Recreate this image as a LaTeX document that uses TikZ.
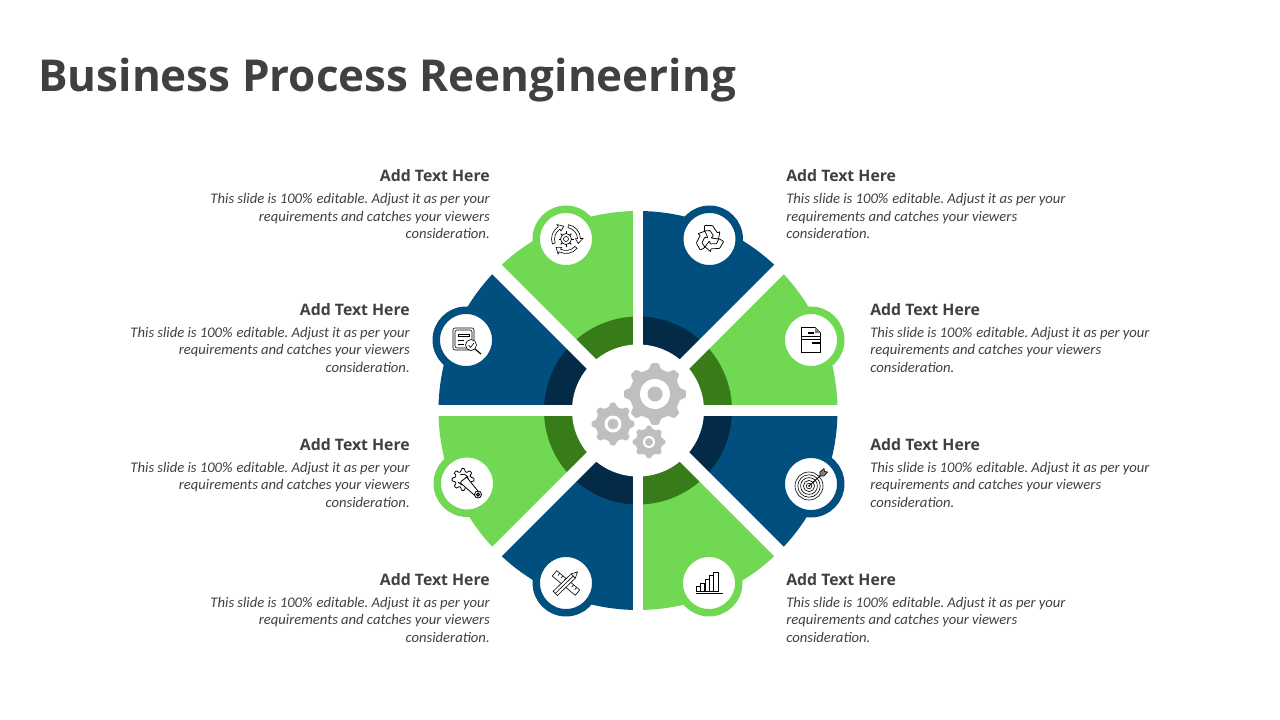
\documentclass[tikz,border=0pt]{standalone}
\usepackage{fontspec}
\setmainfont{Open Sans}
\newfontfamily\bodyfont{Carlito}
\definecolor{leaf}{HTML}{70D852}
\definecolor{leafdark}{HTML}{377C18}
\definecolor{sea}{HTML}{014F7E}
\definecolor{seadark}{HTML}{032B47}
\definecolor{cogray}{HTML}{BFBFBF}
\definecolor{ink}{HTML}{404040}
\newcommand{\blurbtext}{\frenchspacing\spaceskip=2.4pt\relax This slide is 100\%\hspace{3pt}editable. Adjust it as per your\\requirements and catches your viewers\\consideration.}
\begin{document}
\begin{tikzpicture}
  [
    x=0.75pt, y=-0.75pt,
    gap/.style={draw=white, line width=7.7pt},
    badge/.style={circle, fill=white, line width=5.6pt, minimum size=44.6pt, inner sep=0pt},
    head/.style={text=ink, font=\fontsize{11.85}{15}\selectfont\bfseries, inner sep=0pt},
    blurb/.style={text=ink, font=\bodyfont\fontsize{11}{13.25}\selectfont\itshape, inner sep=0pt, text width=240pt},
    icon/.style={draw=black, line width=0.45pt},
    pics/cog/.style args={#1/#2/#3/#4}{code={
      \fill[cogray, rounded corners=0.8pt] (-0.3*45:#2)
        \foreach \t in {0,45,...,315} {
          -- (\t-0.3*45:#2) -- (\t-0.15*45:#1) -- (\t+0.15*45:#1) -- (\t+0.3*45:#2)
        } -- cycle;
      \fill[white] (0,0) circle[radius=#3];
      \fill[cogray] (0,0) circle[radius=#4];
    }},
    pics/iconcycle/.style={code={
      \foreach \a in {-80,40,160} {
        \draw[icon] (\a:11.5) arc[start angle=\a, end angle=\a+78, radius=11.5] -- (\a+78:9.5) -- (\a+100:13)
          -- (\a+78:17) -- (\a+78:14.5) arc[start angle=\a+78, end angle=\a, radius=14.5] -- cycle;
      }
      \foreach \t in {0,45,...,315} { \draw[icon, line width=0.7pt] (\t:5) -- (\t:7.5); }
      \draw[icon] (0,0) circle[radius=5.5];
      \draw[icon] (0,0) circle[radius=2.5];
    }},
    pics/iconrecycle/.style={code={
      \foreach \a in {0,120,240} {
        \draw[icon, line width=0.55pt, rotate=\a, rounded corners=0.5pt] (-5,-13.5) -- (3,-13.5) -- (8,-6) -- (10.5,-7.5)
          -- (9,0) -- (1.5,-1) -- (4,-3) -- (0.5,-8.5) -- (-5,-8) -- cycle;
      }
    }},
    pics/icondoc/.style={code={
      \draw[icon, line width=0.7pt] (-9.5,-12.5) -- (4,-12.5) -- (9.5,-7) -- (9.5,12.5) -- (-9.5,12.5) -- cycle;
      \fill[gray] (4,-12.5) -- (9.5,-7) -- (4,-7) -- cycle;
      \draw[line width=0.9pt] (-3,-7) -- (3,-7);
      \draw[line width=0.9pt] (-9,-3.5) -- (9,-3.5);
      \draw[line width=0.9pt] (-9,-0.5) -- (9,-0.5);
      \draw[line width=0.9pt] (1,3) -- (8.5,3);
    }},
    pics/iconreport/.style={code={
      \draw[icon, rounded corners=1.5pt] (-13,-12) rectangle (8,10);
      \draw[icon, rounded corners=1.5pt] (-11,-10) rectangle (6,8);
      \draw[icon] (-8,-6) -- (3,-6) -- (3,-3.5) -- (-8,-3.5) -- cycle;
      \draw[icon] (-8,0) -- (-2,0);
      \draw[icon] (-8,4) -- (-2,4);
      \draw[icon, line width=0.9pt] (9,9) -- (15,14);
      \filldraw[icon, fill=white] (5,5) circle[radius=5.5];
      \draw[icon] (2.5,5) -- (4.5,7.5) -- (8,3);
    }},
    pics/iconwrench/.style={code={
      \begin{scope}[shift={(-4,-4)}]
        \draw[icon, line width=0.6pt, rounded corners=0.5pt] (-16:8)
          \foreach \t in {0,45,...,315} {
            -- (\t-16:8) -- (\t-8:11) -- (\t+8:11) -- (\t+16:8)
          } -- cycle;
        \draw[icon, line width=0.6pt] (-120:5.5) arc[start angle=-120, end angle=150, radius=5.5];
      \end{scope}
      \filldraw[icon, line width=0.6pt, fill=white] (-6.5,-0.5) -- (9,13) -- (12.5,9.5) -- (-0.5,-6.5) -- (-2,-5) -- (-5.5,-2.5) -- cycle;
      \filldraw[icon, line width=0.6pt, fill=white] (11,11) circle[radius=3.5];
      \draw[icon, line width=0.8pt] (11,11) circle[radius=1.5];
    }},
    pics/icontarget/.style={code={
      \foreach \r in {14,11.2,8.4,5.6,2.8} { \draw[icon] (-2,2) circle[radius=\r]; }
      \fill (-2,2) circle[radius=1];
      \draw[icon, line width=0.7pt] (-2,2) -- (11,-10);
      \filldraw[icon, fill=gray] (9,-8) -- (9,-12) -- (13,-15.5) -- (13.5,-12.5) -- (16.5,-12) -- (13,-8) -- cycle;
    }},
    pics/iconrulers/.style={code={
      \begin{scope}[rotate=-40]
        \draw[icon] (-15,-3.5) rectangle (15,3.5);
        \foreach \u in {-11,-7,-3,3,7,11} { \draw[icon] (\u,-3.5) -- (\u,-0.5); }
      \end{scope}
      \begin{scope}[rotate=44]
        \filldraw[icon, fill=white] (-15,-3) -- (10,-3) -- (16,0) -- (10,3) -- (-15,3) -- cycle;
        \draw[icon] (-15,0) -- (10,0);
        \draw[icon] (10,-3) -- (10,3);
      \end{scope}
    }},
    pics/iconbars/.style={code={
      \draw[line width=1.1pt] (-13,10.7) -- (14,10.7);
      \foreach \xa/\xb/\top in {-12.5/-8.5/3.3,-8.2/-4.2/0.7,-4/0/-3.3,0.2/4.2/-7.3,4.5/9/-11} {
        \draw[icon, line width=0.75pt] (\xa,8.7) rectangle (\xb,\top);
      }
    }}
  ]
  \useasboundingbox (0,0) rectangle (1280,720);
  \coordinate (hub) at (638,410.5);

  % sectors, clockwise from the right
  \foreach \a/\outer/\inner in {0/sea/seadark,45/leaf/leafdark,90/sea/seadark,135/leaf/leafdark,
                                180/sea/seadark,225/leaf/leafdark,270/sea/seadark,315/leaf/leafdark} {
    \fill[\outer] (hub) -- ++(\a:199.5) arc[start angle=\a, end angle=\a+45, radius=199.5] -- cycle;
    \fill[\inner] (hub) -- ++(\a:94) arc[start angle=\a, end angle=\a+45, radius=94] -- cycle;
  }

  \coordinate (gapL) at ([xshift=-206*0.75pt]hub);
  \coordinate (gapR) at ([xshift=206*0.75pt]hub);
  \coordinate (gapT) at ([yshift=206*0.75pt]hub);
  \coordinate (gapB) at ([yshift=-206*0.75pt]hub);
  \coordinate (gapTL) at ([shift={(-146*0.75pt,146*0.75pt)}]hub);
  \coordinate (gapTR) at ([shift={(146*0.75pt,146*0.75pt)}]hub);
  \coordinate (gapBL) at ([shift={(-146*0.75pt,-146*0.75pt)}]hub);
  \coordinate (gapBR) at ([shift={(146*0.75pt,-146*0.75pt)}]hub);
  \draw[gap, line width=8pt] (gapL) -- (gapR);
  \draw[gap] (gapT) -- (gapB);
  \draw[gap, line width=10pt] (gapTL) -- (gapBR);
  \draw[gap, line width=10pt] (gapTR) -- (gapBL);
  \fill[white] (hub) circle[radius=66];

  % gears
  \pic (gearBig) at (655,394) {cog=31/25.5/15/7.5};
  \pic (gearMid) at (613,424) {cog=21.5/17.5/8.5/5.5};
  \pic (gearLow) at (649,442) {cog=16.5/13.5/6/4};

  % badges
  \node (nCycle)   at (566,239) [badge, draw=leaf] {};
  \node (nRecycle) at (709.5,239) [badge, draw=sea] {};
  \node (nDoc)     at (811,340) [badge, draw=leaf] {};
  \node (nReport)  at (466,340) [badge, draw=sea] {};
  \node (nWrench)  at (467,483.5) [badge, draw=leaf] {};
  \node (nTarget)  at (811,484) [badge, draw=sea] {};
  \node (nRulers)  at (566,583) [badge, draw=sea] {};
  \node (nBars)    at (709,583) [badge, draw=leaf] {};

  \pic at (nCycle) {iconcycle};
  \pic at (nRecycle) {iconrecycle};
  \pic at (nDoc) {icondoc};
  \pic at (nReport) {iconreport};
  \pic at (nWrench) {iconwrench};
  \pic at (nTarget) {icontarget};
  \pic at (nRulers) {iconrulers};
  \pic at (nBars) {iconbars};

  % texts
  \node (title) at (38,80) [anchor=west, inner sep=0pt, text=ink, font=\fontsize{33}{38}\selectfont\bfseries] {Business Process Reengineering};

  \foreach \nm/\x/\y in {tlA/490/181.5,tlB/410/315,tlC/410/450,tlD/490/585} {
    \node (head\nm) at (\x,\y) [head, anchor=base east] {Add Text Here};
    \node (text\nm) at (\x,\y+22) [blurb, anchor=base east, align=right] {\blurbtext};
  }
  \foreach \nm/\x/\y in {trA/786/181.5,trB/870/315,trC/870/450,trD/786/585} {
    \node (head\nm) at (\x,\y) [head, anchor=base west] {Add Text Here};
    \node (text\nm) at (\x,\y+22) [blurb, anchor=base west, align=left] {\blurbtext};
  }
\end{tikzpicture}
\end{document}
